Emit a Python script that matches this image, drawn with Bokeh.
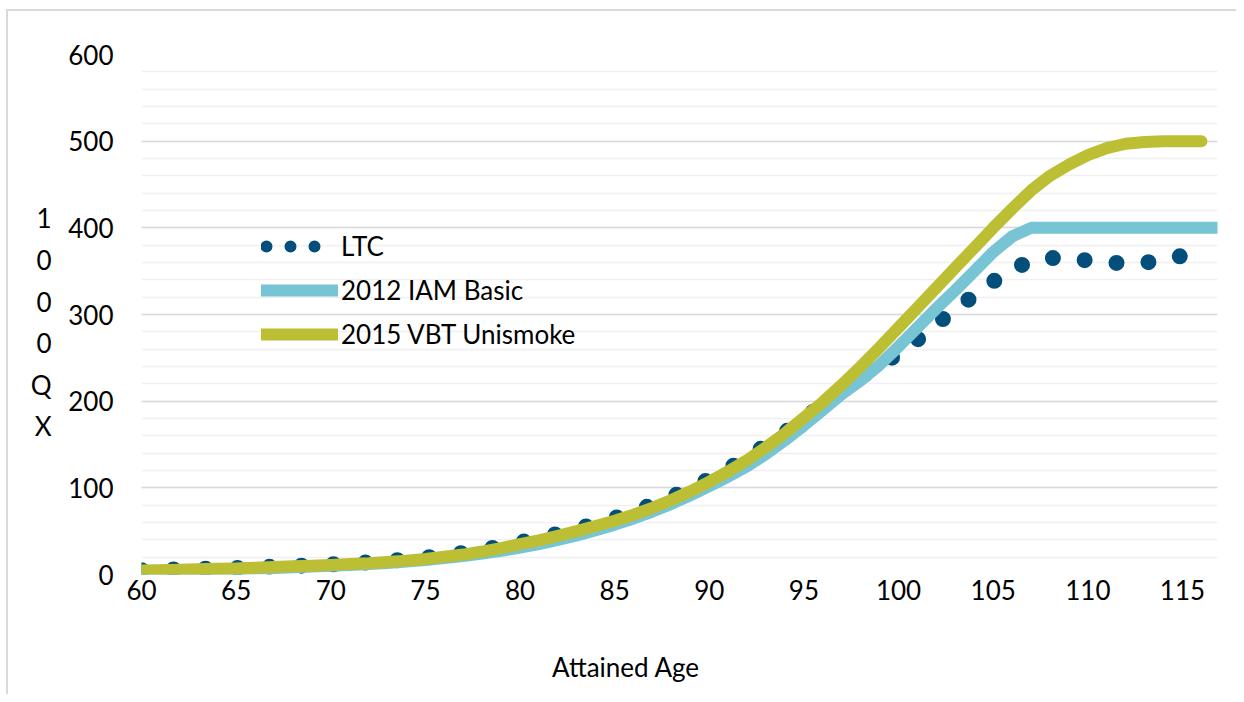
from bokeh.plotting import figure
from bokeh.models import (Range1d, FixedTicker, SingleIntervalTicker, LinearAxis, Legend,
                          LegendItem, CustomJSTickFormatter)
from bokeh.embed import file_html
from bokeh.resources import INLINE

# values per attained age, per 1000 lives
ages = list(range(60, 117))
ages_iam = list(range(60, 118))

ltc = [5, 5.5, 6, 6.5, 7, 7.5, 8.2, 9, 9.8, 10.7,
       11.7, 12.8, 14, 15.5, 17.3, 19.5, 22, 25, 28.5, 32.5,
       37, 42, 47, 52.5, 58.5, 65, 72.5, 80.5, 89.5, 99.5,
       110, 122, 135, 149, 164, 180, 196, 213, 228, 241,
       255, 271, 289, 306, 322, 338, 352, 362, 365, 366,
       362, 360, 359, 360, 362, 368, 373]

iam_2012 = [4, 4.4, 4.8, 5.3, 5.8, 6.3, 6.9, 7.6, 8.3, 9.1,
            10, 11, 12.1, 13.4, 15, 16.8, 18.9, 21.3, 24.1, 27.3,
            31, 35.2, 39.9, 45.1, 51, 57.5, 64.7, 72.7, 81.5, 91.3,
            102, 113, 125, 139, 155, 172, 190, 208, 224, 242,
            263, 285, 307, 328, 350, 372, 390, 400, 400, 400,
            400, 400, 400, 400, 400, 400, 400, 400]

vbt_2015 = [4.5, 5, 5.5, 6, 6.5, 7, 7.8, 8.6, 9.4, 10.2,
            11, 12, 13, 14.5, 16, 18, 20.5, 23, 26.5, 30.5,
            35, 39.5, 44.5, 50, 56, 62, 69, 77, 86, 96,
            107, 119, 132, 147, 163, 181, 199, 219, 240, 262,
            285, 308, 331, 354, 377, 400, 422, 443, 460, 473,
            484, 492, 497, 499, 500, 500, 500]

x_ticks = [60, 65, 70, 75, 80, 85, 90, 95, 100, 105, 110, 115]
names = ["LTC", "2012 IAM Basic", "2015 VBT Unismoke"]
colors = ["#034e7b", "#77c4d4", "#bcbf33"]

# axis titles: y title is stacked one character per line
y_title = ["1", "0", "0", "0", "Q", "X"]
y_title_at = [411, 363, 315, 267, 219, 171]
x_title = "Attained Age"
x_title_at = 85.6

FONT = "Lato"
FS = "26px"

p = figure(width=1236, height=694, output_backend="svg", toolbar_location=None,
           x_range=Range1d(60, 116.85), y_range=Range1d(0, 600),
           min_border_left=141, min_border_right=19, min_border_top=54, min_border_bottom=120)
p.outline_line_color = None
p.border_fill_color = None
# thin chart-area border on the left and top
p.styles = {
    "background-image": "linear-gradient(#d9d9d9, #d9d9d9), linear-gradient(#d9d9d9, #d9d9d9)",
    "background-size": "2px 100%, 100% 2px",
    "background-position": "6px 9px, 6px 9px",
    "background-repeat": "no-repeat",
}


def plain_axis(ax):
    ax.axis_line_color = None
    ax.major_tick_line_color = None
    ax.minor_tick_line_color = None
    ax.major_tick_out = 0
    ax.major_label_text_font = FONT
    ax.major_label_text_font_size = FS
    ax.major_label_text_color = "black"


p.xaxis.ticker = FixedTicker(ticks=x_ticks)
p.yaxis.ticker = SingleIntervalTicker(interval=100, num_minor_ticks=5)
plain_axis(p.xaxis[0])
plain_axis(p.yaxis[0])
p.xaxis.major_label_standoff = 5
p.yaxis.major_label_standoff = 24

# axis titles drawn as outer axes so they can sit off-centre like the original
ytitle_ax = LinearAxis(ticker=FixedTicker(ticks=y_title_at),
                       formatter=CustomJSTickFormatter(args=dict(at=y_title_at, labels=y_title),
                                                       code="return labels[at.indexOf(tick)]"))
plain_axis(ytitle_ax)
ytitle_ax.major_label_standoff = 14
p.add_layout(ytitle_ax, "left")

xtitle_ax = LinearAxis(ticker=FixedTicker(ticks=[x_title_at]),
                       formatter=CustomJSTickFormatter(args=dict(label=x_title), code="return label"))
plain_axis(xtitle_ax)
xtitle_ax.major_label_standoff = 48
p.add_layout(xtitle_ax, "below")

p.xgrid.visible = False
p.ygrid.grid_line_color = "#d9d9d9"
p.ygrid.grid_line_width = 1.5
p.ygrid.minor_grid_line_color = "#f0f0f0"
p.ygrid.minor_grid_line_width = 1.5

r_ltc = p.line(ages, ltc, line_color=colors[0], line_width=16, line_dash="0 32", line_cap="round")
r_iam = p.line(ages_iam, iam_2012, line_color=colors[1], line_width=12, line_cap="round", line_join="round")
r_vbt = p.line(ages, vbt_2015, line_color=colors[2], line_width=12, line_cap="round", line_join="round")
# legend key for LTC: three smaller dots (renders nothing in the plot)
r_ltc_key = p.line([float("nan")], [float("nan")], line_color=colors[0], line_width=12,
                   line_dash="0 24 0 24 0 100", line_dash_offset=143, line_cap="round")

legend = Legend(items=[LegendItem(label=names[0], renderers=[r_ltc_key]),
                       LegendItem(label=names[1], renderers=[r_iam]),
                       LegendItem(label=names[2], renderers=[r_vbt])],
                location=(120, 218))
legend.padding = 0
legend.margin = 0
legend.spacing = 0
legend.glyph_width = 77
legend.glyph_height = 44
legend.label_standoff = 3
legend.label_text_font = FONT
legend.label_text_font_size = FS
legend.label_text_color = "black"
legend.border_line_color = None
legend.background_fill_alpha = 0
p.add_layout(legend)

open("out.html", "w").write(file_html(p, INLINE))
